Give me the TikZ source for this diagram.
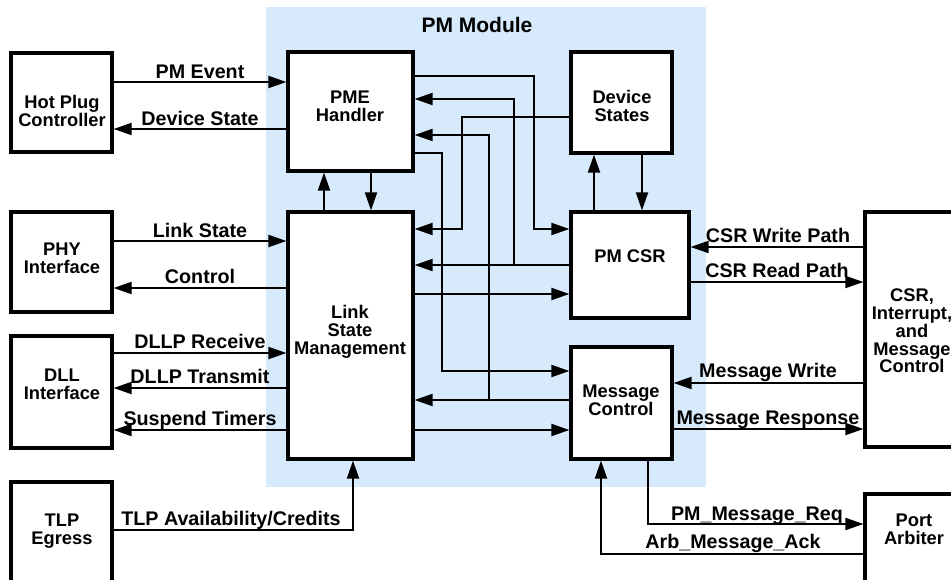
\documentclass[tikz,border=0pt]{standalone}
\usepackage{fontspec}
\setmainfont{Liberation Sans}
\usetikzlibrary{arrows.meta}
\definecolor{pmblue}{RGB}{214,234,252}
\begin{document}
\begin{tikzpicture}[x=1pt,y=-1pt,
  box/.style={draw, line width=3.2pt, fill=white, inner sep=0pt},
  txt/.style={font=\fontsize{18.3}{17.7}\selectfont\bfseries, align=center, inner sep=0pt},
  lbl/.style={font=\fontsize{19.7}{18}\selectfont\bfseries, inner sep=0pt, anchor=base},
  arr/.style={line width=2pt, -{Triangle[length=18pt,width=12pt]}},
]
\useasboundingbox (0,0) rectangle (951,580);
\clip (0,0) rectangle (951,580);
% background
\fill[pmblue] (266,7) rectangle (706,487);
\node[txt, font=\fontsize{21}{21}\selectfont\bfseries] (pmmod) at (477,24.5) {PM Module};
% boxes
\node[box, minimum width=125pt, minimum height=119pt] (pme) at (350.5,111.5) {};
\node[box, minimum width=101pt, minimum height=101pt] (ds) at (621.5,102.5) {};
\node[box, minimum width=125pt, minimum height=247pt] (lsm) at (350.5,335.5) {};
\node[box, minimum width=118pt, minimum height=106pt] (csr) at (630,265) {};
\node[box, minimum width=101pt, minimum height=112pt] (mc) at (621.5,403) {};
\node[box, minimum width=101pt, minimum height=99pt] (hpc) at (61.5,102.5) {};
\node[box, minimum width=101pt, minimum height=100pt] (phy) at (61.5,262) {};
\node[box, minimum width=101pt, minimum height=112pt] (dll) at (61.5,392) {};
\node[box, minimum width=101pt, minimum height=118pt] (tlp) at (61.5,541) {};
\node[box, minimum width=93pt, minimum height=235pt] (cim) at (911.5,329.5) {};
\node[box, minimum width=93pt, minimum height=106pt] (pa) at (911.5,547) {};
% box texts
\node[txt] (tpme) at (350,106) {PME\\Handler};
\node[txt] (tds) at (622,106) {Device\\States};
\node[txt] (tlsm) at (350,332) {Link\\State\\Management};
\node[txt] (tcsr) at (630,256) {PM CSR};
\node[txt] (tmc) at (621,400.5) {Message\\Control};
\node[txt] (thpc) at (62,111) {Hot Plug\\Controller};
\node[txt] (tphy) at (62,258.5) {PHY\\Interface};
\node[txt] (tdll) at (62,384) {DLL\\Interface};
\node[txt] (ttlp) at (62,531) {TLP\\Egress};
\node[txt] (tcim) at (912,331) {CSR,\\Interrupt,\\and\\Message\\Control};
\node[txt] (tpa) at (914,529) {Port\\Arbiter};
% junction coordinates
\coordinate (j1) at (514,265);
\coordinate (j2) at (489,400);
% left side connectors
\draw[arr] (hpc.east |- 0,82) -- (pme.west |- 0,82);
\draw[arr] (pme.west |- 0,129) -- (hpc.east |- 0,129);
\draw[arr] (phy.east |- 0,241) -- (lsm.west |- 0,241);
\draw[arr] (lsm.west |- 0,288) -- (phy.east |- 0,288);
\draw[arr] (dll.east |- 0,353) -- (lsm.west |- 0,353);
\draw[arr] (lsm.west |- 0,388) -- (dll.east |- 0,388);
\draw[arr] (lsm.west |- 0,430) -- (dll.east |- 0,430);
\draw[arr] (tlp.east |- 0,530) -| (lsm.south -| 353,0);
% vertical pairs
\draw[arr] (lsm.north -| 324,0) -- (pme.south -| 324,0);
\draw[arr] (pme.south -| 371,0) -- (lsm.north -| 371,0);
\draw[arr] (csr.north -| 594,0) -- (ds.south -| 594,0);
\draw[arr] (ds.south -| 642,0) -- (csr.north -| 642,0);
% inner crossing connectors
\draw[arr] (pme.east |- 0,76) -| (534,229) -- (csr.west |- 0,229);
\draw[arr] (ds.west |- 0,117) -| (462,229) -- (lsm.east |- 0,229);
\draw[arr] (csr.west |- 0,265) -- (lsm.east |- 0,265);
\draw[arr] (j1) |- (pme.east |- 0,99);
\draw[arr] (mc.west |- 0,400) -- (lsm.east |- 0,400);
\draw[arr] (j2) |- (pme.east |- 0,135);
\draw[arr] (pme.east |- 0,153) -| (442,371) -- (mc.west |- 0,371);
\draw[arr] (lsm.east |- 0,294) -- (csr.west |- 0,294);
\draw[arr] (lsm.east |- 0,430) -- (mc.west |- 0,430);
% right side
\draw[arr] (cim.west |- 0,247) -- (csr.east |- 0,247);
\draw[arr] (csr.east |- 0,282) -- (cim.west |- 0,282);
\draw[arr] (cim.west |- 0,383) -- (mc.east |- 0,383);
\draw[arr] (mc.east |- 0,429) -- (cim.west |- 0,429);
% bottom
\draw[arr] (mc.south -| 648,0) |- (pa.west |- 0,524);
\draw[arr] (pa.west |- 0,554) -| (mc.south -| 601,0);
% labels
\node[lbl] (l1) at (200,79) {PM Event};
\node[lbl] (l2) at (200,126) {Device State};
\node[lbl] (l3) at (200,238) {Link State};
\node[lbl] (l4) at (200,283.5) {Control};
\node[lbl] (l5) at (200,348) {DLLP Receive};
\node[lbl] (l6) at (200,383) {DLLP Transmit};
\node[lbl] (l7) at (200,425.5) {Suspend Timers};
\node[lbl] (l8) at (231,525) {TLP Availability/Credits};
\node[lbl] (l9) at (778,243) {CSR Write Path};
\node[lbl] (l10) at (777,277) {CSR Read Path};
\node[lbl] (l11) at (768,377) {Message Write};
\node[lbl] (l12) at (768,424) {Message Response};
\node[lbl] (l13) at (757,520) {PM\_Message\_Req};
\node[lbl] (l14) at (733,548) {Arb\_Message\_Ack};
\end{tikzpicture}
\end{document}
